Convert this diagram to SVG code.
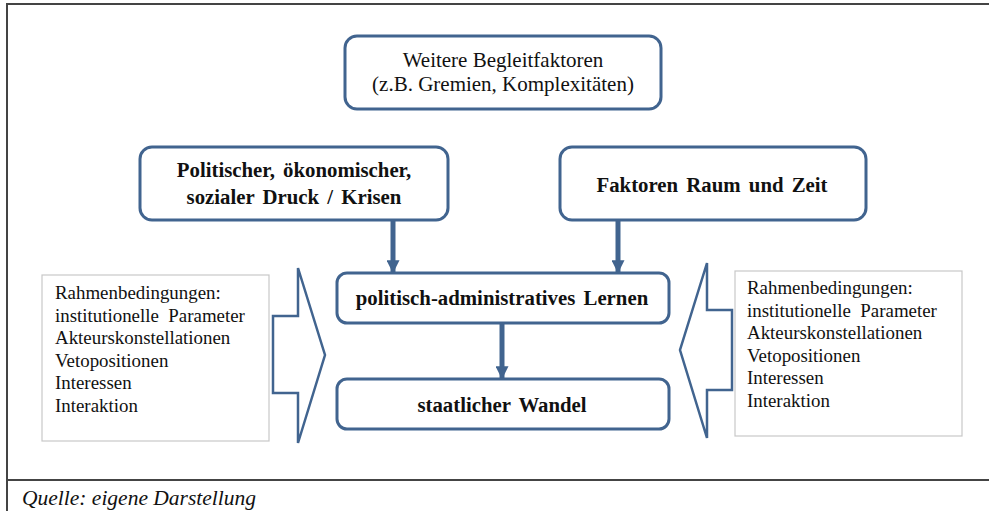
<svg xmlns="http://www.w3.org/2000/svg" width="989" height="511" viewBox="0 0 989 511">
<defs>
<style>
.box{fill:#fff;stroke:#41648f;stroke-width:3}
.lst{fill:#fff;stroke:#c8c8c8;stroke-width:1.2}
.blk{fill:#fff;stroke:#41648f;stroke-width:2.5;stroke-linejoin:miter}
text{fill:#111}
.n{font-size:21px;text-anchor:middle}
.b{font-size:20.8px;font-weight:bold;text-anchor:middle;word-spacing:3px}
.l{font-size:18.9px}
.con{stroke:#41648f;stroke-width:5;fill:none}
</style>
<marker id="ah" viewBox="0 0 10 10" refX="9" refY="5" markerWidth="2.6" markerHeight="2.6" markerUnits="strokeWidth" orient="auto">
<path d="M0,0 L10,5 L0,10 z" fill="#41648f"/>
</marker>
</defs>
<rect width="989" height="511" fill="#fff"/>
<g id="frame" fill="none" stroke="#444" stroke-width="2">
<line x1="7" y1="4" x2="989" y2="4"/>
<line x1="7" y1="3" x2="7" y2="511"/>
<line x1="7" y1="480" x2="989" y2="480"/>
</g>
<g font-family="Liberation Serif, Times New Roman, DejaVu Serif, serif">
<g id="n-begleit">
<rect class="box" x="345" y="36" width="316" height="73" rx="12"/>
<text class="n" x="503" y="67">Weitere Begleitfaktoren</text>
<text class="n" x="503" y="91">(z.B. Gremien, Komplexitäten)</text>
</g>
<g id="n-druck">
<rect class="box" x="140" y="147" width="308" height="73" rx="12"/>
<text class="b" x="294" y="177">Politischer, ökonomischer,</text>
<text class="b" x="294" y="204">sozialer Druck / Krisen</text>
</g>
<g id="n-raum">
<rect class="box" x="560" y="147" width="306" height="73" rx="12"/>
<text class="b" x="712" y="192">Faktoren Raum und Zeit</text>
</g>
<g id="n-lernen">
<rect class="box" x="337" y="273" width="332" height="50" rx="10"/>
<text class="b" x="502" y="305">politisch-administratives Lernen</text>
</g>
<g id="n-wandel">
<rect class="box" x="337" y="379" width="332" height="50" rx="10"/>
<text class="b" x="502" y="412">staatlicher Wandel</text>
</g>
<g id="n-rahmen-links">
<rect class="lst" x="42" y="275" width="227" height="166"/>
<text class="l" x="55" y="299">Rahmenbedingungen:</text>
<text class="l" x="55" y="321.5" xml:space="preserve">institutionelle  Parameter</text>
<text class="l" x="55" y="344">Akteurskonstellationen</text>
<text class="l" x="55" y="366.5">Vetopositionen</text>
<text class="l" x="55" y="389">Interessen</text>
<text class="l" x="55" y="411.5">Interaktion</text>
</g>
<g id="n-rahmen-rechts">
<rect class="lst" x="735" y="271" width="227" height="165"/>
<text class="l" x="747" y="294">Rahmenbedingungen:</text>
<text class="l" x="747" y="316.5" xml:space="preserve">institutionelle  Parameter</text>
<text class="l" x="747" y="339">Akteurskonstellationen</text>
<text class="l" x="747" y="361.5">Vetopositionen</text>
<text class="l" x="747" y="384">Interessen</text>
<text class="l" x="747" y="406.5">Interaktion</text>
</g>
<text x="22" y="505" font-size="21.5" font-style="italic">Quelle: eigene Darstellung</text>
</g>
<g id="connectors">
<polygon class="blk" points="273,316 298,316 298,268 325,355 298,443 298,393 273,393"/>
<polygon class="blk" points="732,310 707,310 707,263 680,350 707,438 707,390 732,390"/>
<line class="con" x1="393" y1="220" x2="393" y2="272" marker-end="url(#ah)"/>
<line class="con" x1="618" y1="220" x2="618" y2="272" marker-end="url(#ah)"/>
<line class="con" x1="502" y1="323" x2="502" y2="378" marker-end="url(#ah)"/>
</g>
</svg>
